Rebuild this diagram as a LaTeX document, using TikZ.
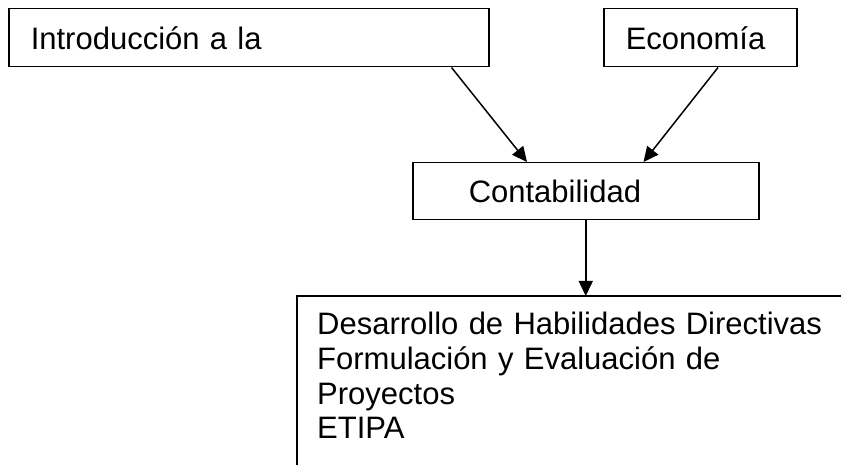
\documentclass[tikz,border=0pt]{standalone}
\usepackage{fontspec}
\setmainfont{Liberation Sans}
\usetikzlibrary{arrows.meta}
\begin{document}
\begin{tikzpicture}[x=1pt,y=-1pt,
  boxline/.style={draw=black,line width=1.5pt},
  cbox/.style={boxline,anchor=north west,align=left,inner ysep=0pt,
    font=\fontsize{31}{34.7}\selectfont},
  arr/.style={line width=1.5pt,-{Triangle[length=15pt,width=14pt]}}]
\clip (0,0) rectangle (841,465);
\fill[white] (0,0) rectangle (841,465);
\node[cbox,minimum height=58pt,inner xsep=22pt,text width=436pt] (intro) at (8,8) {Introducción a la};
\node[cbox,minimum height=58pt,inner xsep=22pt,text width=149pt] (econ) at (603,8) {Economía};
\node[cbox,minimum height=57pt,inner xsep=56pt,text width=234pt] (cont) at (412,162) {Contabilidad};
\coordinate (botnw) at (297,296);
\draw[boxline] (botnw) rectangle ++(600,220);
\node[anchor=north west,align=left,inner sep=0pt,text width=540pt,
  font=\fontsize{31}{34.7}\selectfont] (bot) at (317,312)
  {Desarrollo de Habilidades Directivas\\Formulación y Evaluación de\\Proyectos\\ETIPA};
\draw[arr] ([xshift=-38pt]intro.south east) -- ([xshift=115pt]cont.north west);
\draw[arr] ([xshift=115pt]econ.south west) -- ([xshift=-116pt]cont.north east);
\draw[arr] (cont.south) -- (cont.south |- botnw);
\end{tikzpicture}
\end{document}
